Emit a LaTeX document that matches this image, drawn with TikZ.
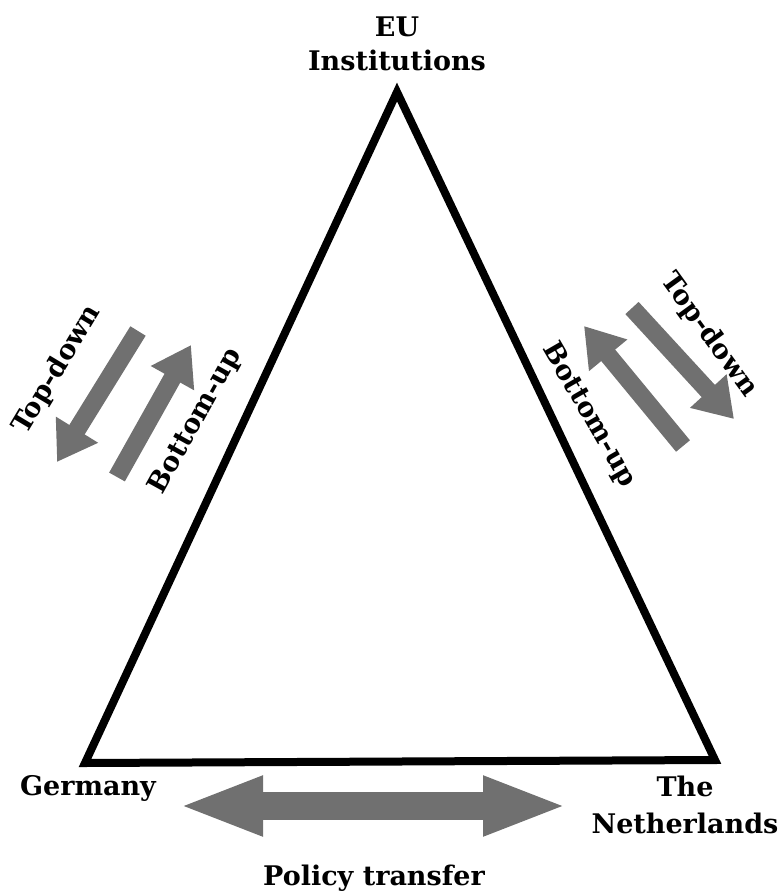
\documentclass[tikz,border=0pt]{standalone}
\usepackage{fontspec}
\setmainfont{DejaVu Serif}
\usetikzlibrary{arrows.meta}
\definecolor{arrowgray}{RGB}{112,112,112}
\tikzset{
  lbl/.style={font=\fontsize{27}{34}\selectfont\bfseries, inner sep=0pt, align=center},
  diagarrow/.style={draw=arrowgray, line width=18pt, -{Triangle[width=47pt,length=38pt]}},
  horzarrow/.style={draw=arrowgray, line width=28pt, {Triangle[width=54pt,length=85pt]}-{Triangle[width=54pt,length=85pt]}},
  tri/.style={draw=black, line width=8pt, line join=miter}
}
\begin{document}
\begin{tikzpicture}[x=1pt,y=-1pt]
\useasboundingbox (0,0) rectangle (782,894);
% triangle vertices
\coordinate (top) at (397,92);
\coordinate (bl) at (85,763);
\coordinate (br) at (715,760);
\draw[tri] (top) -- (bl) -- (br) -- cycle;
% labels at vertices
\node[lbl] (eu) at (397,44) {EU\\Institutions};
\node[lbl] (ger) at (88,788) {Germany};
\node[lbl, font=\fontsize{27}{37}\selectfont\bfseries] (neth) at (685,805) {The\\Netherlands};
\node[lbl] (pol) at (374,878) {Policy transfer};
% left arrows
\coordinate (ltds) at (138,331);
\coordinate (ltde) at (57,462);
\coordinate (lbus) at (117,477);
\coordinate (lbue) at (191,345);
\draw[diagarrow] (ltds) -- (ltde);
\draw[diagarrow] (lbus) -- (lbue);
\node[lbl, rotate=59] (ltd) at (57,370) {Top-down};
\node[lbl, rotate=61] (lbu) at (196,421) {Bottom-up};
% right arrows
\coordinate (rbus) at (683,446);
\coordinate (rbue) at (584,326);
\coordinate (rtds) at (632,308);
\coordinate (rtde) at (734,419);
\draw[diagarrow] (rbus) -- (rbue);
\draw[diagarrow] (rtds) -- (rtde);
\node[lbl, rotate=-54] (rtd) at (709,335) {Top-down};
\node[lbl, rotate=-60] (rbu) at (589,415) {Bottom-up};
% horizontal arrow
\coordinate (hl) at (178,806);
\coordinate (hr) at (568,806);
\draw[horzarrow] (hl) -- (hr);
\end{tikzpicture}
\end{document}
